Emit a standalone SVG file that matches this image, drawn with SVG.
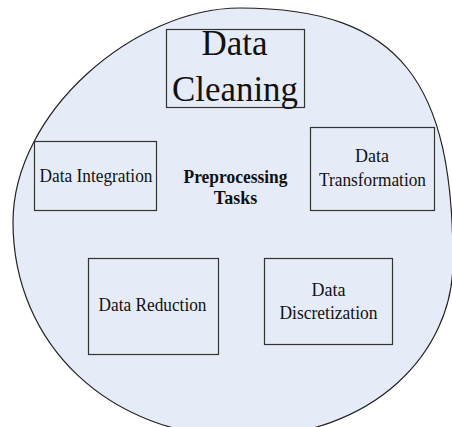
<svg xmlns="http://www.w3.org/2000/svg" width="452" height="427" viewBox="0 0 452 427">
  <style>
    .ring { fill: #e6ecf7; stroke: #222; stroke-width: 1.2; }
    .box { fill: none; stroke: #333; stroke-width: 1.2; }
    .lbl { font-family: "Liberation Serif", "Times New Roman", serif; font-size: 18px; fill: #111; text-anchor: middle; }
    .lbl.big { font-size: 35px; }
    .bold { font-weight: bold; }
  </style>

  <!-- background ring holding all tasks -->
  <g id="region">
    <path class="ring" d="M240,8 C402,8 453,84 453,262 C453,352 374,437 243,437 C110,437 13,345 13,222 C13,112 135,8 240,8 Z"/>
  </g>

  <g id="data-cleaning">
    <rect class="box" x="166.5" y="29.5" width="138" height="78"/>
    <text class="lbl big" x="234.5" y="55">Data</text>
    <text class="lbl big" x="235" y="101" textLength="126" lengthAdjust="spacingAndGlyphs">Cleaning</text>
  </g>

  <g id="data-integration">
    <rect class="box" x="34.5" y="141.5" width="122" height="69"/>
    <text class="lbl" x="96" y="182" textLength="113" lengthAdjust="spacingAndGlyphs">Data Integration</text>
  </g>

  <g id="preprocessing-tasks">
    <text class="lbl bold" x="235.5" y="183" textLength="104" lengthAdjust="spacingAndGlyphs">Preprocessing</text>
    <text class="lbl bold" x="235.5" y="204">Tasks</text>
  </g>

  <g id="data-transformation">
    <rect class="box" x="310.5" y="127.5" width="124" height="83"/>
    <text class="lbl" x="372" y="162">Data</text>
    <text class="lbl" x="372.5" y="186" textLength="107" lengthAdjust="spacingAndGlyphs">Transformation</text>
  </g>

  <g id="data-reduction">
    <rect class="box" x="88.5" y="258.5" width="130" height="96"/>
    <text class="lbl" x="152.5" y="311" textLength="108" lengthAdjust="spacingAndGlyphs">Data Reduction</text>
  </g>

  <g id="data-discretization">
    <rect class="box" x="264.5" y="258.5" width="128" height="86"/>
    <text class="lbl" x="328.5" y="296">Data</text>
    <text class="lbl" x="328.5" y="318.5" textLength="98" lengthAdjust="spacingAndGlyphs">Discretization</text>
  </g>
</svg>
